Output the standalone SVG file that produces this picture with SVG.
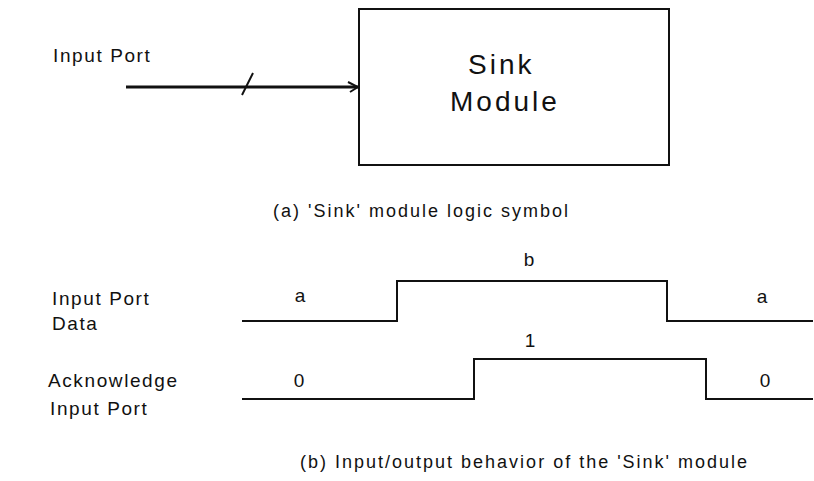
<svg xmlns="http://www.w3.org/2000/svg" width="814" height="481" viewBox="0 0 814 481">
<defs>
<style>
.t{font-family:"Liberation Sans",Arial,Helvetica,sans-serif;fill:#111;}
.lbl{font-size:19px;letter-spacing:1.6px;}
.cap{font-size:18px;letter-spacing:2px;}
.big{font-size:28px;letter-spacing:3px;}
.val{font-size:19px;text-anchor:middle;}
.w{fill:none;stroke:#111;stroke-width:2;}
</style>
<marker id="ah" viewBox="0 0 12 12" refX="11" refY="6" markerWidth="12" markerHeight="12" markerUnits="userSpaceOnUse" orient="auto">
<path d="M1,1 L11,6 L3,11" fill="none" stroke="#111" stroke-width="2"/>
</marker>
</defs>
<rect width="814" height="481" fill="#fff"/>

<g id="sink-module">
<rect x="359" y="9" width="310" height="156" fill="#fff" stroke="#111" stroke-width="2"/>
<text class="t big" x="468" y="74">Sink</text>
<text class="t big" x="450" y="111">Module</text>
</g>

<g id="input-port-label">
<text class="t lbl" x="53" y="62">Input Port</text>
</g>

<g id="connectors">
<line x1="126" y1="87" x2="358" y2="87" stroke="#111" stroke-width="3" marker-end="url(#ah)"/>
<line x1="242" y1="95" x2="253" y2="73" stroke="#111" stroke-width="2"/>
</g>

<g id="caption-a">
<text class="t cap" x="273" y="217">(a) 'Sink' module logic symbol</text>
</g>

<g id="data-signal">
<text class="t lbl" x="52" y="305">Input Port</text>
<text class="t lbl" x="52" y="330">Data</text>
<polyline class="w" points="242,321 397,321 397,281 667,281 667,321 813,321"/>
<text class="t val" x="300" y="302">a</text>
<text class="t val" x="529" y="266">b</text>
<text class="t val" x="762" y="303">a</text>
</g>

<g id="ack-signal">
<text class="t lbl" x="48" y="387">Acknowledge</text>
<text class="t lbl" x="50" y="415">Input Port</text>
<polyline class="w" points="242,399 474,399 474,359 706,359 706,399 813,399"/>
<text class="t val" x="299" y="387">0</text>
<text class="t val" x="530" y="347">1</text>
<text class="t val" x="765" y="387">0</text>
</g>

<g id="caption-b">
<text class="t cap" x="300" y="468">(b) Input/output behavior of the 'Sink' module</text>
</g>
</svg>
